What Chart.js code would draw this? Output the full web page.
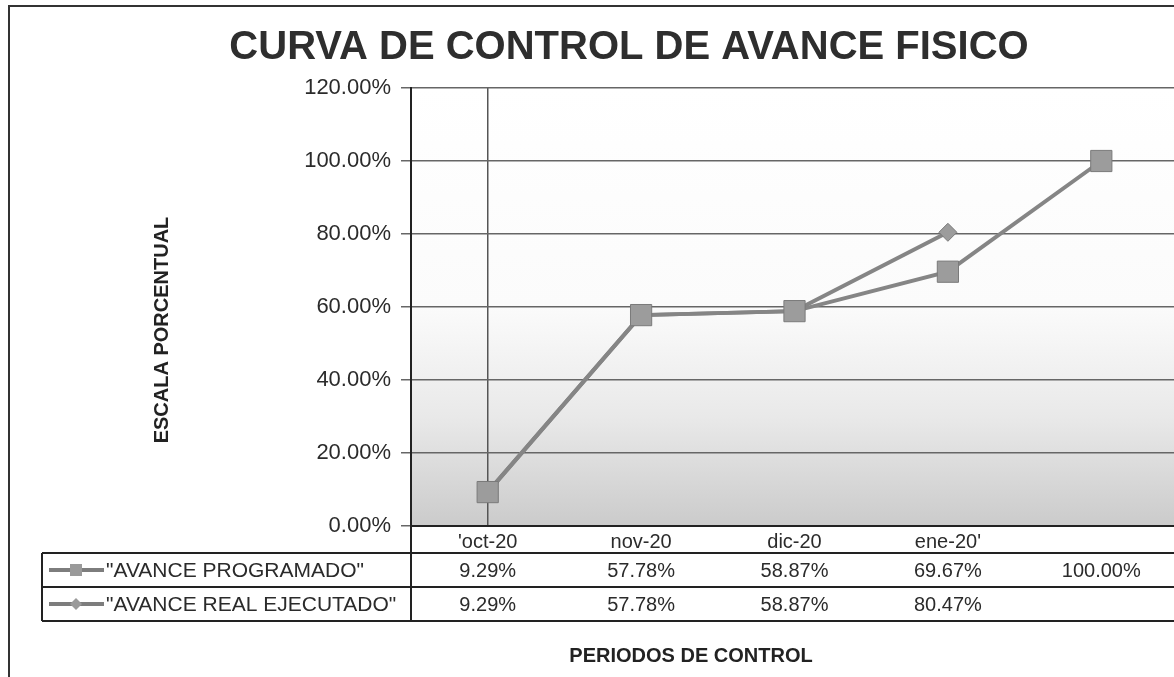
<!DOCTYPE html>
<html>
<head>
<meta charset="utf-8">
<script src="https://cdn.jsdelivr.net/npm/chart.js@4.4.1/dist/chart.umd.min.js"></script>
<style>
  html, body { margin: 0; padding: 0; background: #fff; overflow: hidden; }
  canvas { display: block; }
</style>
</head>
<body>
<canvas id="curvaChart" width="1182" height="677"></canvas>
<script>
// Datos de la curva
const periodos = ["'oct-20", 'nov-20', 'dic-20', "ene-20'", ''];
const avanceProgramado = [9.29, 57.78, 58.87, 69.67, 100.00];
const avanceReal = [9.29, 57.78, 58.87, 80.47, null];
const nombreProgramado = '"AVANCE PROGRAMADO"';
const nombreReal = '"AVANCE REAL EJECUTADO"';

const FONT = "'Liberation Sans', Arial, sans-serif";
const TEXT = '#2b2b2b';

function pct(v) {
    return v.toFixed(2) + '%';
}

// fondo degradado del area de trazado
const fondoPlugin = {
    id: 'fondo',
    beforeDraw(chart) {
        const { ctx, chartArea: a } = chart;
        const g = ctx.createLinearGradient(0, a.top, 0, a.bottom);
        g.addColorStop(0, '#ffffff');
        g.addColorStop(0.5, '#fbfbfb');
        g.addColorStop(0.75, '#e9e9e9');
        g.addColorStop(1, '#cbcbcb');
        ctx.save();
        ctx.fillStyle = g;
        ctx.fillRect(a.left, a.top, a.right - a.left, a.bottom - a.top);
        ctx.restore();
    }
};

// tabla de datos, titulos y marco
const tablaPlugin = {
    id: 'tabla',
    afterDraw(chart) {
        const { ctx, chartArea: a, width } = chart;
        const x = chart.scales.x;
        const filas = [
            { nombre: nombreProgramado, datos: avanceProgramado, y0: 553, y1: 587, forma: 'rect' },
            { nombre: nombreReal, datos: avanceReal, y0: 587, y1: 621, forma: 'rectRot' }
        ];
        ctx.save();

        // lineas de la tabla
        ctx.strokeStyle = '#222';
        ctx.lineWidth = 2;
        ctx.beginPath();
        [553, 587, 621].forEach(y => {
            ctx.moveTo(42, y);
            ctx.lineTo(width, y);
        });
        ctx.moveTo(42, 553);
        ctx.lineTo(42, 621);
        ctx.moveTo(a.left, a.bottom);
        ctx.lineTo(a.left, 621);
        ctx.stroke();

        // valores y leyenda
        ctx.textBaseline = 'middle';
        filas.forEach(f => {
            const yc = (f.y0 + f.y1) / 2;
            ctx.fillStyle = TEXT;
            ctx.font = '20px ' + FONT;
            ctx.textAlign = 'center';
            f.datos.forEach((v, i) => {
                if (v === null) return;
                ctx.fillText(pct(v), x.getPixelForValue(i), yc + 1);
            });
            // muestra de la serie
            ctx.strokeStyle = '#7d7d7d';
            ctx.lineWidth = 4;
            ctx.beginPath();
            ctx.moveTo(49, yc);
            ctx.lineTo(104, yc);
            ctx.stroke();
            ctx.fillStyle = '#9a9a9a';
            if (f.forma === 'rect') {
                ctx.fillRect(70, yc - 6, 12, 12);
            } else {
                ctx.beginPath();
                ctx.moveTo(76, yc - 6);
                ctx.lineTo(82, yc);
                ctx.lineTo(76, yc + 6);
                ctx.lineTo(70, yc);
                ctx.closePath();
                ctx.fill();
            }
            ctx.fillStyle = TEXT;
            ctx.font = '21px ' + FONT;
            ctx.textAlign = 'left';
            ctx.fillText(f.nombre, 106, yc + 1);
        });

        // titulos
        ctx.textAlign = 'center';
        ctx.font = 'bold 40px ' + FONT;
        ctx.fillStyle = '#2e2e2e';
        ctx.fillText('CURVA DE CONTROL DE AVANCE FISICO', 629, 48);

        ctx.font = 'bold 20px ' + FONT;
        ctx.fillStyle = '#222';
        ctx.fillText('PERIODOS DE CONTROL', 691, 656);

        ctx.save();
        ctx.translate(162, 330);
        ctx.rotate(-Math.PI / 2);
        ctx.font = 'bold 20px ' + FONT;
        ctx.fillText('ESCALA PORCENTUAL', 0, 0);
        ctx.restore();

        // marco exterior
        ctx.strokeStyle = '#333';
        ctx.lineWidth = 2;
        ctx.beginPath();
        ctx.moveTo(9, 677);
        ctx.lineTo(9, 6);
        ctx.lineTo(width, 6);
        ctx.stroke();

        ctx.restore();
    }
};

const ctx = document.getElementById('curvaChart').getContext('2d');
new Chart(ctx, {
    type: 'line',
    data: {
        labels: periodos,
        datasets: [{
            label: nombreProgramado,
            data: avanceProgramado,
            borderColor: '#858585',
            borderWidth: 4,
            pointStyle: 'rect',
            pointRadius: 15,
            pointBackgroundColor: '#9c9c9c',
            pointBorderColor: '#7a7a7a',
            pointBorderWidth: 1,
            tension: 0
        }, {
            label: nombreReal,
            data: avanceReal,
            borderColor: '#858585',
            borderWidth: 4,
            pointStyle: 'rectRot',
            pointRadius: 9,
            pointBackgroundColor: '#9c9c9c',
            pointBorderColor: '#7a7a7a',
            pointBorderWidth: 1,
            tension: 0
        }]
    },
    options: {
        responsive: false,
        animation: false,
        layout: {
            autoPadding: false,
            padding: { top: 88, right: 4, left: 0, bottom: 0 }
        },
        plugins: {
            legend: { display: false },
            title: { display: false },
            tooltip: { enabled: false }
        },
        scales: {
            x: {
                type: 'category',
                offset: true,
                grid: {
                    drawTicks: false,
                    lineWidth: 1.5,
                    color: c => c.index === 0 ? '#555' : 'rgba(0,0,0,0)'
                },
                border: { color: '#222', width: 2 },
                ticks: {
                    color: TEXT,
                    font: { family: FONT, size: 20 },
                    padding: 4,
                    maxRotation: 0,
                    autoSkip: false
                },
                afterFit: s => { s.height = 151; }
            },
            y: {
                min: 0,
                max: 120,
                ticks: {
                    stepSize: 20,
                    color: TEXT,
                    font: { family: FONT, size: 22 },
                    padding: 10,
                    callback: v => pct(v)
                },
                grid: {
                    color: '#666',
                    lineWidth: 1.5,
                    tickLength: 10
                },
                border: { color: '#222', width: 2 },
                afterFit: s => { s.width = 411; }
            }
        }
    },
    plugins: [fondoPlugin, tablaPlugin]
});
</script>
</body>
</html>
